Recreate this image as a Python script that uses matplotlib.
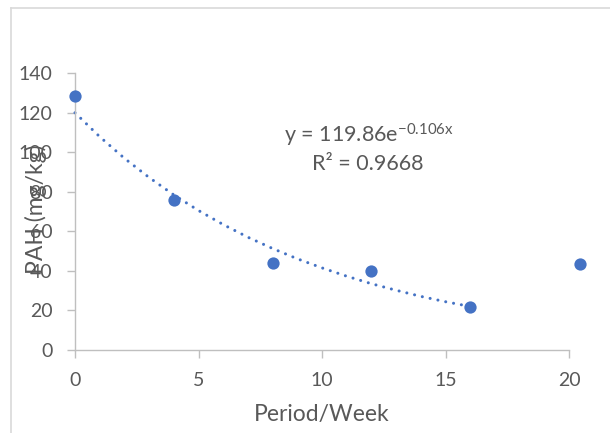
import matplotlib
matplotlib.use("Agg")
import matplotlib.pyplot as plt
from matplotlib.lines import Line2D

plt.rcParams['font.family'] = ['Lato', 'DejaVu Sans']
plt.rcParams['mathtext.fontset'] = 'custom'
plt.rcParams['mathtext.rm'] = 'Lato'
plt.rcParams['mathtext.default'] = 'regular'

# measured data
weeks = [0, 4, 8, 12, 16, 20.45]
pah = [128.2, 75.7, 44.0, 40.1, 21.6, 43.6]

# exponential trendline as drawn (first five points)
trend_x = [0, 1, 2, 3, 4, 5, 6, 7, 8, 9, 10, 11, 12, 13, 14, 15, 16]
trend_y = [119.9, 107.8, 96.9, 87.2, 78.4, 70.5, 63.4, 57.0, 51.3,
           46.1, 41.5, 37.3, 33.5, 30.2, 27.1, 24.4, 22.0]

xticks = [0, 5, 10, 15, 20]
yticks = [0, 20, 40, 60, 80, 100, 120, 140]

blue = '#4472C4'
txt = '#595959'
axis_grey = '#bfbfbf'

fig = plt.figure(figsize=(6.1, 4.33), dpi=100)
ax = fig.add_axes([75 / 610, 83 / 433, 494 / 610, 277 / 433])

ax.plot(trend_x, trend_y, color=blue, lw=2.2, linestyle=(0, (0.01, 2.6)),
        dash_capstyle='round', clip_on=False, zorder=2)
ax.scatter(weeks, pah, s=78, color=blue, clip_on=False, zorder=3,
           linewidths=0)

ax.set_xlim(0, 20)
ax.set_ylim(0, 140)
ax.set_xticks(xticks)
ax.set_yticks(yticks)

for s in ['top', 'right']:
    ax.spines[s].set_visible(False)
for s in ['left', 'bottom']:
    ax.spines[s].set_color(axis_grey)
    ax.spines[s].set_linewidth(1.0)

ax.tick_params(axis='both', colors=axis_grey, labelcolor=txt, labelsize=14,
               length=6, width=1.0, direction='out')
ax.tick_params(axis='y', pad=10)
ax.tick_params(axis='x', pad=10)

ax.set_xlabel('Period/Week', fontsize=16.5, color=txt)
ax.xaxis.set_label_coords(0.5, -0.195)
ax.set_ylabel('PAH (mg/kg)', fontsize=16.5, color=txt, va='center')
ax.yaxis.set_label_coords((36 - 75) / 494, 0.51)

ax.text(0.595, 0.775, 'y = 119.86e$^{-0.106x}$', transform=ax.transAxes,
        fontsize=15.5, color=txt, ha='center', va='center')
ax.text(0.593, 0.67, 'R² = 0.9668', transform=ax.transAxes,
        fontsize=15.5, color=txt, ha='center', va='center')

# chart area frame (partly cut off)
frame = '#d9d9d9'
fig.add_artist(Line2D([11 / 610, 11 / 610], [0, 1 - 8 / 433],
                      color=frame, lw=1.2, transform=fig.transFigure))
fig.add_artist(Line2D([11 / 610, 1], [1 - 8 / 433, 1 - 8 / 433],
                      color=frame, lw=1.2, transform=fig.transFigure))

fig.savefig('out.png', dpi=100)
